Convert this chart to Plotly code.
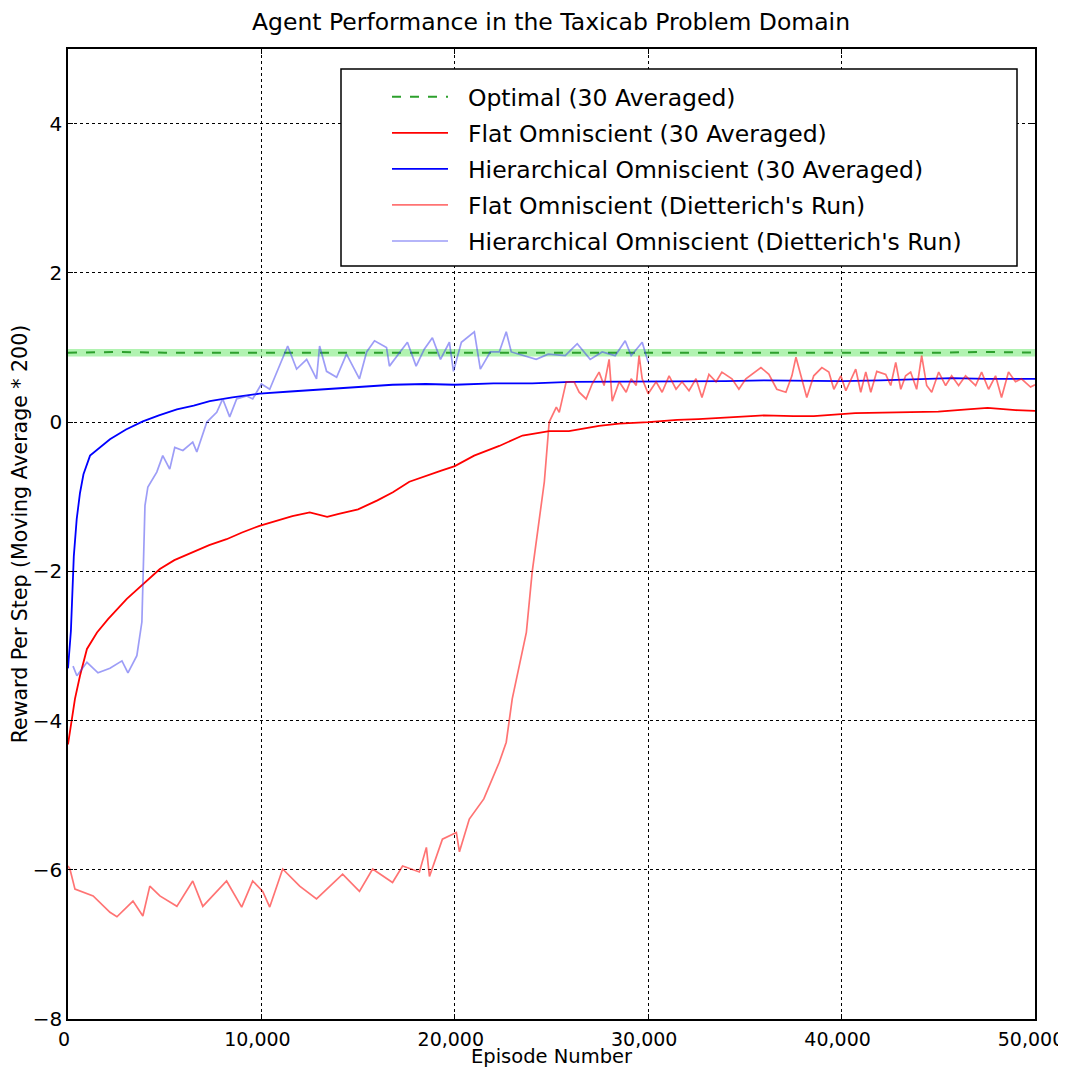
import plotly.graph_objects as go

# ---------------- data ----------------
optimal_x = [0, 2500, 5000, 7500, 10000, 12500, 15000, 17500, 20000, 22500, 25000,
             27500, 30000, 32500, 35000, 37500, 40000, 42500, 45000, 47500, 50000]
optimal_y = [0.93, 0.94, 0.93, 0.93, 0.93, 0.92, 0.93, 0.93, 0.93, 0.92, 0.93,
             0.93, 0.93, 0.92, 0.93, 0.93, 0.92, 0.93, 0.93, 0.94, 0.93]
optimal_lo = [0.88] * len(optimal_x)
optimal_hi = [0.98] * len(optimal_x)

flat_avg_x = [0, 360, 620, 980, 1500, 2070, 3040, 4000, 4750, 5500, 6450, 7300, 8200,
              9000, 9900, 10800, 11600, 12500, 13000, 13400, 14000, 15000, 16000,
              16800, 17650, 18500, 19300, 20000, 21000, 22300, 23500, 24880, 25900,
              27460, 28500, 30000, 31500, 32600, 34300, 36000, 37500, 38560, 40700,
              42500, 45000, 46500, 47550, 49000, 50000]
flat_avg_y = [-4.32, -3.71, -3.40, -3.04, -2.82, -2.64, -2.37, -2.15, -1.97, -1.85,
              -1.74, -1.65, -1.57, -1.48, -1.39, -1.32, -1.26, -1.21, -1.24, -1.27,
              -1.23, -1.17, -1.05, -0.94, -0.80, -0.72, -0.65, -0.59, -0.45, -0.32,
              -0.18, -0.12, -0.12, -0.05, -0.02, 0.0, 0.03, 0.04, 0.07, 0.09, 0.08,
              0.08, 0.12, 0.13, 0.14, 0.17, 0.19, 0.16, 0.15]

hier_avg_x = [0, 150, 300, 450, 620, 800, 1140, 1600, 2170, 3000, 3870, 4700, 5630,
              6500, 7330, 8500, 9900, 11500, 13370, 15000, 16780, 18500, 20000, 22000,
              24000, 26000, 28000, 30000, 32000, 34000, 36000, 38000, 40000, 42000,
              44000, 45700, 47500, 50000]
hier_avg_y = [-3.3, -2.8, -1.8, -1.3, -0.95, -0.7, -0.45, -0.35, -0.23, -0.10, 0.01,
              0.09, 0.17, 0.22, 0.28, 0.33, 0.38, 0.41, 0.44, 0.47, 0.50, 0.51, 0.50,
              0.52, 0.52, 0.54, 0.54, 0.54, 0.55, 0.55, 0.56, 0.55, 0.55, 0.56, 0.58,
              0.59, 0.58, 0.58]

flat_run_x = [0, 100, 360, 1300, 2170, 2530, 3360, 3870, 4230, 4750, 5630, 6450, 6970,
              8200, 8980, 9550, 10070, 10430, 11100, 11980, 12850, 14200, 15070, 15750,
              16780, 17300, 18170, 18530, 18690, 19360, 20080, 20240, 20750, 21500,
              22300, 22660, 22970, 23330, 23700, 24000, 24370, 24630, 24880, 25250,
              25400, 25760, 26170, 26430, 26790, 27100, 27460, 27720, 27980, 28140,
              28500, 28860, 29120, 29380, 29530, 29690, 30000, 30410, 30720, 31080,
              31440, 31750, 32110, 32470, 32780, 33140, 33510, 33810, 34330, 34690,
              35050, 35360, 35830, 36240, 36650, 37120, 37430, 37640, 38050, 38200,
              38560, 38980, 39340, 39600, 39960, 40220, 40730, 40990, 41250, 41510,
              41820, 42280, 42540, 42800, 43060, 43310, 43570, 43880, 44140, 44400,
              44660, 45020, 45380, 45690, 46050, 46410, 46930, 47240, 47600, 47960,
              48270, 48630, 48990, 49300, 49770, 50000]
flat_run_y = [-5.95, -5.99, -6.26, -6.35, -6.57, -6.63, -6.42, -6.62, -6.22, -6.35,
              -6.49, -6.15, -6.49, -6.15, -6.50, -6.15, -6.29, -6.50, -5.99, -6.22,
              -6.39, -6.06, -6.29, -5.99, -6.17, -5.95, -6.03, -5.70, -6.09, -5.59,
              -5.50, -5.76, -5.32, -5.05, -4.56, -4.29, -3.71, -3.27, -2.82, -2.01,
              -1.26, -0.80, 0.0, 0.20,
              0.13, 0.54, 0.54, 0.40, 0.31, 0.51, 0.67, 0.49, 0.84, 0.28,
              0.54, 0.40, 0.58, 0.49, 0.89, 0.58, 0.38, 0.54, 0.40, 0.62,
              0.44, 0.54, 0.42, 0.58, 0.33, 0.64, 0.54, 0.67, 0.58, 0.44,
              0.58, 0.64, 0.73, 0.64, 0.44, 0.40, 0.62, 0.87, 0.49, 0.33,
              0.62, 0.73, 0.67, 0.44, 0.62, 0.42, 0.71, 0.40, 0.67, 0.40,
              0.68, 0.64, 0.49, 0.80, 0.44, 0.62, 0.67, 0.44, 0.89, 0.49,
              0.40, 0.67, 0.49, 0.62, 0.49, 0.62, 0.49, 0.67, 0.44, 0.62,
              0.33, 0.67, 0.54, 0.58, 0.47, 0.50]

hier_run_x = [260, 460, 980, 1550, 2170, 2790, 3100, 3560, 3820, 3980, 4130, 4590, 4900,
              5260, 5520, 5940, 6450, 6660, 7180, 7690, 8000, 8360, 8720, 9240, 9550,
              10000, 10430, 10940, 11360, 11820, 12340, 12850, 13010, 13370, 13890,
              14400, 14710, 15070, 15440, 15850, 16470, 16620, 17140, 17550, 18000,
              18430, 18840, 19260, 19720, 19930, 20340, 21010, 21320, 21840, 22300,
              22660, 22920, 23540, 24210, 24830, 25710, 26330, 27000, 27620, 28290,
              28810, 29120, 29690, 30000]
hier_run_y = [-3.27, -3.40, -3.22, -3.36, -3.30, -3.20, -3.36, -3.13, -2.68, -1.12,
              -0.87, -0.67, -0.45, -0.63, -0.34, -0.38, -0.27, -0.40, 0.0, 0.13, 0.31,
              0.07, 0.31, 0.35, 0.31, 0.51, 0.44, 0.75, 1.02, 0.71, 0.84, 0.58, 1.02,
              0.68, 0.60, 0.91, 0.75, 0.58, 0.94, 1.09, 1.00, 0.75, 0.93, 1.07, 0.75,
              0.98, 1.13, 0.84, 1.07, 0.68, 1.07, 1.21, 0.71, 0.94, 0.94, 1.21, 0.94,
              0.89, 0.84, 0.91, 0.89, 1.05, 0.84, 0.94, 0.89, 1.09, 0.89, 1.07, 0.80]

x_ticks = [0, 10000, 20000, 30000, 40000, 50000]
y_ticks = [-8, -6, -4, -2, 0, 2, 4]

series_names = ["Optimal (30 Averaged)",
                "Flat Omniscient (30 Averaged)",
                "Hierarchical Omniscient (30 Averaged)",
                "Flat Omniscient (Dietterich's Run)",
                "Hierarchical Omniscient (Dietterich's Run)"]

# ---------------- figure ----------------
# The page body has an 8px margin, so the figure is 8px smaller than the window.
FONT = "DejaVu Sans"
FIG_W, FIG_H = 1058, 1060
M_L, M_R, M_T, M_B = 60, 31, 41, 49
PW = FIG_W - M_L - M_R
PH = FIG_H - M_T - M_B
PAD = "\u00a0\u00a0"  # gap between legend line sample and its text

fig = go.Figure()

# light green band around optimal
fig.add_trace(go.Scatter(x=optimal_x, y=optimal_lo, mode="lines",
                         line=dict(width=0, color="rgba(144,238,144,0)"),
                         showlegend=False, hoverinfo="skip"))
fig.add_trace(go.Scatter(x=optimal_x, y=optimal_hi, mode="lines", fill="tonexty",
                         fillcolor="rgba(144,238,144,0.7)",
                         line=dict(width=0, color="rgba(144,238,144,0)"),
                         showlegend=False, hoverinfo="skip"))

fig.add_trace(go.Scatter(x=optimal_x, y=optimal_y, mode="lines",
                         name=PAD + series_names[0], legendgroup="a",
                         line=dict(color="#2ca02c", width=2, dash="dash")))
fig.add_trace(go.Scatter(x=flat_avg_x, y=flat_avg_y, mode="lines",
                         name=PAD + series_names[1], legendgroup="b",
                         line=dict(color="#ff0000", width=1.8)))
fig.add_trace(go.Scatter(x=hier_avg_x, y=hier_avg_y, mode="lines",
                         name=PAD + series_names[2], legendgroup="c",
                         line=dict(color="#0000ff", width=1.8)))
fig.add_trace(go.Scatter(x=flat_run_x, y=flat_run_y, mode="lines",
                         name=PAD + series_names[3], legendgroup="d",
                         line=dict(color="rgba(255,0,0,0.55)", width=1.7)))
fig.add_trace(go.Scatter(x=hier_run_x, y=hier_run_y, mode="lines",
                         name=PAD + series_names[4], legendgroup="e",
                         line=dict(color="rgba(60,60,240,0.5)", width=1.7)))

axis_common = dict(showline=True, linecolor="black", linewidth=1.5, mirror="ticks",
                   ticks="inside", ticklen=5, tickcolor="black",
                   showgrid=True, gridcolor="black", gridwidth=1, griddash="dot",
                   zeroline=False, automargin=False, ticklabeloverflow="allow")

fig.update_xaxes(range=[0, 50000], tickvals=x_ticks, tickformat=",",
                 ticklabelshift=-4, ticklabelstandoff=2,
                 tickfont=dict(family=FONT, size=19, color="black"),
                 title=dict(text="Episode Number", font=dict(family=FONT, size=19.5, color="black"),
                            standoff=3),
                 **axis_common)
fig.update_yaxes(range=[-8, 5], tickvals=y_ticks,
                 tickfont=dict(family=FONT, size=20, color="black"),
                 title=dict(text="Reward Per Step (Moving Average * 200)",
                            font=dict(family=FONT, size=20.5, color="black"), standoff=6),
                 **axis_common)

# legend box (matplotlib-like frame); page coords -> paper coords
def px_x(px):
    return (px - 8 - M_L) / PW

def px_y(py):
    return (FIG_H - M_B - (py - 8)) / PH

fig.add_shape(type="rect", xref="paper", yref="paper",
              x0=px_x(341), x1=px_x(1017), y0=px_y(266), y1=px_y(69),
              line=dict(color="black", width=1.5), fillcolor="white", layer="above")

fig.update_layout(
    width=FIG_W, height=FIG_H,
    margin=dict(l=M_L, r=M_R, t=M_T, b=M_B, autoexpand=False),
    paper_bgcolor="white", plot_bgcolor="white",
    title=dict(text="Agent Performance in the Taxicab Problem Domain",
               font=dict(family=FONT, size=23.5, color="black"),
               x=(551 - 8) / FIG_W, xanchor="center",
               y=1 - (22 - 8) / FIG_H, yanchor="middle"),
    legend=dict(x=px_x(387), y=px_y(75), xanchor="left", yanchor="top",
                bgcolor="rgba(0,0,0,0)", borderwidth=0,
                font=dict(family=FONT, size=23.5, color="black"),
                tracegroupgap=2.5, itemwidth=56),
    showlegend=True,
)

fig.write_html("out.html")
